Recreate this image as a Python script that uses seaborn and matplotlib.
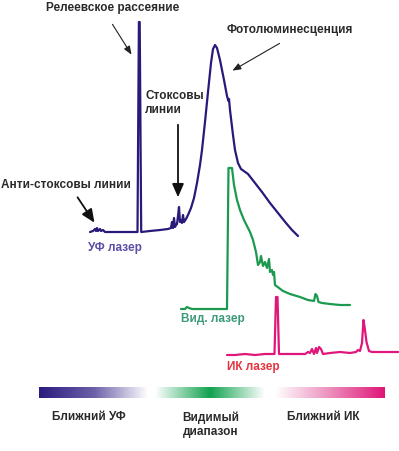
import matplotlib

matplotlib.use("Agg")
import matplotlib.pyplot as plt
import numpy as np
import pandas as pd
import seaborn as sns
from matplotlib.colors import LinearSegmentedColormap

uv_x = [90, 93, 95, 96, 97, 98, 100, 101, 103, 105, 110, 120, 130, 137.5, 138.9, 139.7, 141.2,
        150, 160, 168, 171, 172, 173, 174, 175, 176, 177, 178, 179, 180, 181, 182, 183, 184,
        186, 188, 191, 194, 197, 200, 202, 205, 208, 211, 213, 215, 217, 220, 224, 227, 228.5,
        229, 230, 233, 235, 238, 241, 248, 255, 262, 270, 278, 286, 292, 298]
uv_y = [232, 231, 229, 231, 228, 231, 229, 231, 230, 232, 232, 232, 232, 232, 22, 22, 232,
        231, 230, 229, 228, 222, 228, 218, 227, 225, 224, 216, 207, 222, 220, 223, 215, 222,
        219, 215, 208, 198, 183, 165, 150, 122, 92, 63, 49, 45, 48, 60, 80, 96, 101,
        99, 110, 135, 150, 163, 169, 174, 183, 192, 203, 213, 223, 230, 236]

vis_x = [181, 185, 187, 189, 192, 200, 210, 220, 227, 228.5, 232, 234, 237, 240, 244, 247,
         250, 253, 256, 258, 260, 261, 263, 265, 267, 269, 270, 272, 273, 274, 275, 279, 283,
         290, 300, 308, 314, 315.5, 317, 318.5, 322, 330, 340, 350]
vis_y = [309, 309, 307, 308, 309, 309, 309, 309, 309, 168, 168, 185, 200, 210, 220, 226,
         232, 240, 252, 265, 262, 256, 266, 262, 268, 259, 272, 270, 275, 272, 285, 288, 291,
         294, 297, 300, 301, 294, 296, 302, 303, 304, 305, 305]

ir_x = [227, 235, 245, 255, 265, 273, 274.5, 276, 277.5, 279, 285, 295, 305, 308, 310, 312,
        314, 316, 317, 319, 321, 323, 330, 340, 350, 356, 358, 360, 362, 363.5, 365, 366.5,
        369, 372, 380, 390, 398]
ir_y = [355, 355, 354, 355, 354, 354, 354, 297, 297, 354, 354, 354, 354, 352, 353, 349,
        354, 348, 353, 347, 349, 354, 353, 352, 353, 352, 350, 351, 343, 320, 330, 342,
        351, 352, 352, 352, 352]

# Spectral ranges shown by the gradient bar: (name, left, right, colours)
band_labels = ["Ближний УФ", "Видимый\nдиапазон", "Ближний ИК"]
band_label_x = [89, 211, 323]
band_edges = [(39, 148), (155, 265), (275, 385)]
band_colors = [
    ["#2b1c7e", "#6a5fa8", "#ffffff"],
    ["#ffffff", "#11a24f", "#ffffff"],
    ["#ffffff", "#ec8fbd", "#e01577"],
]
band_top, band_bottom = 387, 398

spectra = [
    ("УФ", uv_x, uv_y, "#29197a"),
    ("Вид", vis_x, vis_y, "#1b9a4f"),
    ("ИК", ir_x, ir_y, "#e0167a"),
]

sns.set_style("white")
plt.rcParams["font.family"] = ["Liberation Sans", "DejaVu Sans"]

fig = plt.figure(figsize=(3.99, 4.51), dpi=100)
ax = fig.add_axes([0, 0, 1, 1])

for name, xs, ys, color in spectra:
    df = pd.DataFrame({"x": xs, "y": ys})
    sns.lineplot(data=df, x="x", y="y", sort=False, estimator=None,
                 color=color, linewidth=1.6, ax=ax)

# gradient bar
grad = np.linspace(0, 1, 256).reshape(1, -1)
for label, lx, (left, right), colors in zip(band_labels, band_label_x, band_edges, band_colors):
    cmap = LinearSegmentedColormap.from_list(label, colors)
    ax.imshow(grad, cmap=cmap, aspect="auto",
              extent=(left, right, band_bottom, band_top), origin="upper")
    two_lines = "\n" in label
    ax.text(lx, 411 if two_lines else 417, label, ha="center",
            va="top" if two_lines else "center",
            fontsize=8.5, fontweight="bold", color="#2a2a2a", linespacing=1.3)

ax.set_xlim(0, 399)
ax.set_ylim(451, 0)
ax.axis("off")

txt = dict(fontsize=8.5, fontweight="bold", color="#2a2a2a")
ax.text(113, 8, "Релеевское рассеяние", ha="center", va="center", **txt)
ax.text(145, 103, "Стоксовы\nлинии", ha="left", va="center", linespacing=1.2, **txt)
ax.text(290, 30, "Фотолюминесценция", ha="center", va="center", **txt)
ax.text(66, 185, "Анти-стоксовы линии", ha="center", va="center", **txt)

ax.text(88, 248, "УФ лазер", ha="left", va="center", fontsize=8.5,
        fontweight="bold", color="#5a4ea6")
ax.text(181, 319, "Вид. лазер", ha="left", va="center", fontsize=8.5,
        fontweight="bold", color="#3c9a78")
ax.text(227, 367, "ИК лазер", ha="left", va="center", fontsize=8.5,
        fontweight="bold", color="#e5333f")

# arrows
thin = dict(arrowstyle="-|>,head_length=0.5,head_width=0.2", color="#222222", lw=0.8)
thick = dict(arrowstyle="-|>,head_length=0.8,head_width=0.35", color="#111111", lw=1.3)
ax.annotate("", xy=(133, 57), xytext=(111, 22), arrowprops=thin)
ax.annotate("", xy=(230, 72), xytext=(282, 42), arrowprops=thin)
ax.annotate("", xy=(178, 200), xytext=(178, 122), arrowprops=thick)
ax.annotate("", xy=(96, 225), xytext=(76, 195), arrowprops=thick)

fig.savefig("out.png", dpi=100)
